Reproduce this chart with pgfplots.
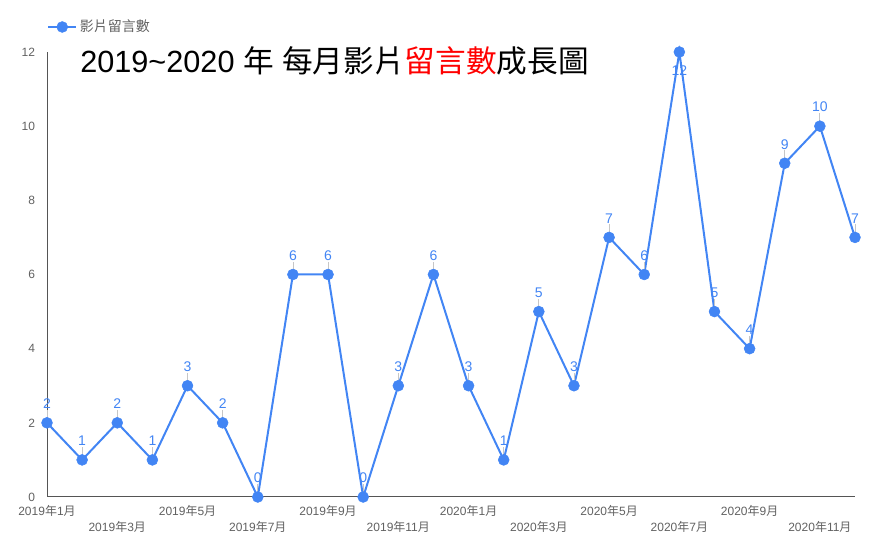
\documentclass[border=0pt]{standalone}
\usepackage{fontspec}
\setmainfont{Liberation Sans}
\newfontfamily\cjk{Noto Sans CJK TC}
\usepackage{pgfplots}
\pgfplotsset{compat=1.18}
\definecolor{gblue}{HTML}{4285F4}
\definecolor{tgray}{HTML}{616161}
\definecolor{agray}{HTML}{555555}
\newcommand\ym[2]{#1{\cjk 年}#2{\cjk 月}}
\begin{document}
\begin{tikzpicture}
\useasboundingbox (0,0) rectangle (657.75pt,405.75pt);
\begin{axis}[
  at={(35.25pt,33pt)}, anchor=south west,
  scale only axis, width=606pt, height=333.75pt,
  xmin=0, xmax=23, ymin=0, ymax=12, clip=false,
  axis x line=bottom, axis y line=left,
  axis line style={-, draw=agray, line width=0.75pt},
  major tick length=0pt,
  ytick={0,2,...,12},
  yticklabel style={font=\fontsize{9}{10}\selectfont, text=tgray, xshift=-5.5pt},
  xtick={0,4,...,20},
  xticklabels={\ym{2019}{1},\ym{2019}{5},\ym{2019}{9},\ym{2020}{1},\ym{2020}{5},\ym{2020}{9}},
  xticklabel style={font=\fontsize{9}{10}\selectfont, text=tgray, yshift=-2.5pt},
  extra x ticks={2,6,...,22},
  extra x tick labels={\ym{2019}{3},\ym{2019}{7},\ym{2019}{11},\ym{2020}{3},\ym{2020}{7},\ym{2020}{11}},
  extra x tick style={xticklabel style={yshift=-12pt}},
  /pgf/number format/assume math mode=true,
  legend style={at={(axis description cs:0,1)}, anchor=west, yshift=18.75pt, xshift=-3pt,
    draw=none, fill=none, font=\fontsize{10.5}{12}\selectfont, text=tgray},
  legend cell align=left,
  legend image code/.code={\draw[#1, mark repeat=2, mark phase=2] plot coordinates {(0pt,0pt)(10.5pt,0pt)(21pt,0pt)};},
]
\addplot[color=gblue, line width=1.5pt, mark=*, mark size=4.1pt,
  mark options={solid, fill=gblue, draw=gblue, line width=0.4pt, line join=round},
  nodes near coords, point meta=y,
  nodes near coords style={font=\fontsize{10.5}{12}\selectfont, text=gblue, anchor=center, yshift=14.25pt},
  coordinate style/.condition={y==12}{yshift=-28.5pt},
  error bars/.cd, y dir=plus, y explicit, error mark=none,
  error bar style={draw=gray!45, line width=0.6pt}]
coordinates {
(0,2) +- (0,0.35)
(1,1) +- (0,0.35)
(2,2) +- (0,0.35)
(3,1) +- (0,0.35)
(4,3) +- (0,0.35)
(5,2) +- (0,0.35)
(6,0) +- (0,0.35)
(7,6) +- (0,0.35)
(8,6) +- (0,0.35)
(9,0) +- (0,0.35)
(10,3) +- (0,0.35)
(11,6) +- (0,0.35)
(12,3) +- (0,0.35)
(13,1) +- (0,0.35)
(14,5) +- (0,0.35)
(15,3) +- (0,0.35)
(16,7) +- (0,0.35)
(17,6) +- (0,0.35)
(18,12) +- (0,0)
(19,5) +- (0,0.35)
(20,4) +- (0,0.35)
(21,9) +- (0,0.35)
(22,10) +- (0,0.35)
(23,7) +- (0,0.35)
};
\addlegendentry{{\cjk 影片留言數}}
\end{axis}
\node[anchor=base west, inner sep=0pt, font=\fontsize{23}{28}\selectfont] at (60pt,351pt)
  {2019\textasciitilde 2020 {\cjk 年} {\cjk 每月影片}{\cjk\color{red}留言數}{\cjk 成長圖}};
\end{tikzpicture}
\end{document}
